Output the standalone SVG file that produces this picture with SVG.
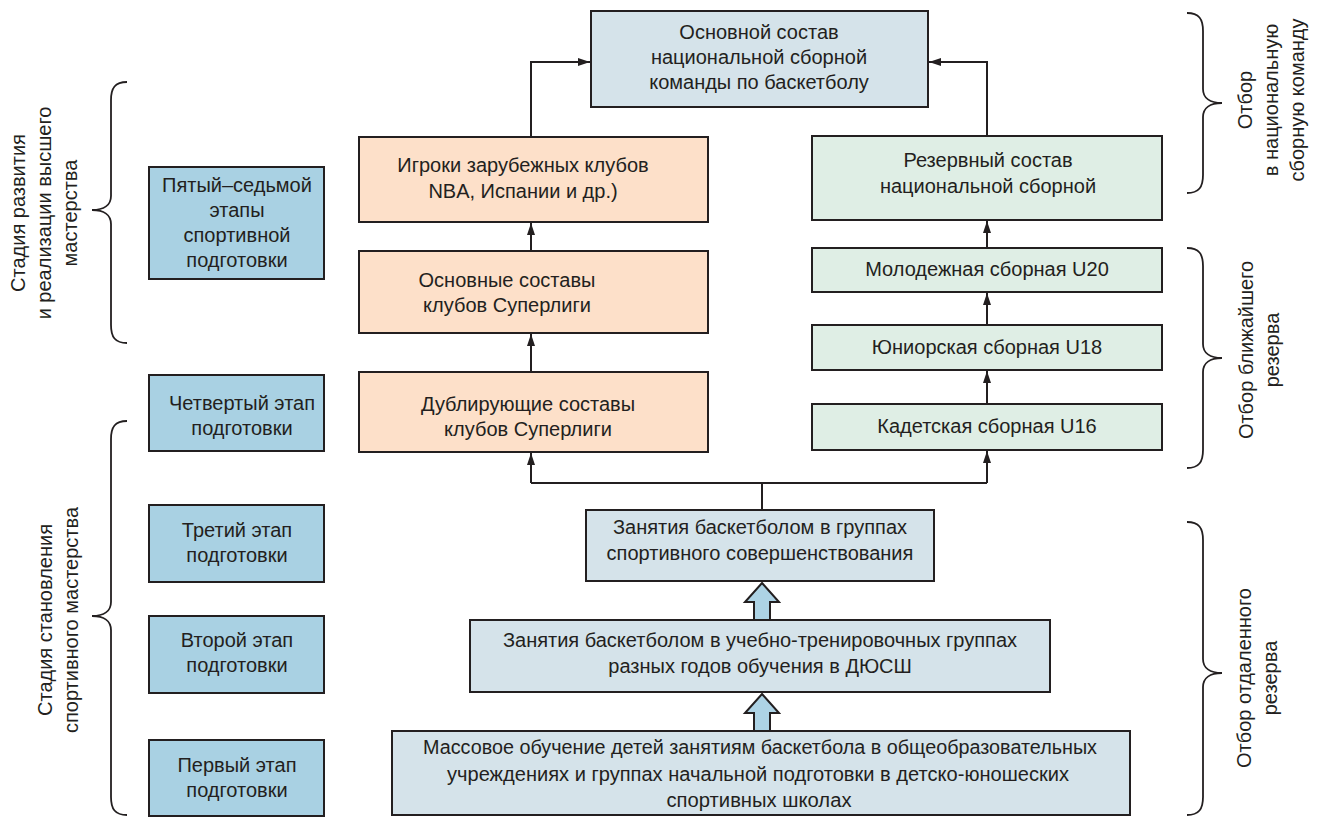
<svg xmlns="http://www.w3.org/2000/svg" width="1318" height="817" viewBox="0 0 1318 817">
<style>
  text { font-family: "Liberation Sans", Arial, sans-serif; font-size: 20px; fill: #231f20; text-anchor: middle; }
  .box { stroke: #231f20; stroke-width: 2; }
  .main { fill: #d5e3ea; }
  .stage { fill: #a9d1e3; }
  .club { fill: #fde0c9; }
  .nat { fill: #dfeee5; }
  .conn { fill: none; stroke: #231f20; stroke-width: 2; }
  .brace { fill: none; stroke: #231f20; stroke-width: 1.8; }
  .block { fill: #add3e5; stroke: #231f20; stroke-width: 2; stroke-linejoin: miter; }
</style>
<defs>
  <marker id="ah" viewBox="0 0 12 8" refX="12" refY="4" markerWidth="12" markerHeight="8" markerUnits="userSpaceOnUse" orient="auto">
    <path d="M0,0 L12,4 L0,8 Z" fill="#231f20"/>
  </marker>
</defs>
<rect width="1318" height="817" fill="#ffffff"/>

<g id="connectors">
  <path class="conn" d="M531,136 V62 H590" marker-end="url(#ah)"/>
  <path class="conn" d="M987,136 V62 H929" marker-end="url(#ah)"/>
  <path class="conn" d="M531,251 V223" marker-end="url(#ah)"/>
  <path class="conn" d="M531,372 V334" marker-end="url(#ah)"/>
  <path class="conn" d="M987,248 V221" marker-end="url(#ah)"/>
  <path class="conn" d="M987,325 V293" marker-end="url(#ah)"/>
  <path class="conn" d="M987,404 V371" marker-end="url(#ah)"/>
  <path class="conn" d="M762,510 V483"/>
  <path class="conn" d="M531,483 H987"/>
  <path class="conn" d="M531,483 V453" marker-end="url(#ah)"/>
  <path class="conn" d="M987,483 V451" marker-end="url(#ah)"/>
  <path class="block" d="M762,583 L779,602 L770,602 L770,620 L754,620 L754,602 L745,602 Z"/>
  <path class="block" d="M762,694 L779,713 L770,713 L770,731 L754,731 L754,713 L745,713 Z"/>
</g>

<g id="braces">
  <path class="brace" d="M127,82 C115,82 111,88 111,100 L111,196 C111,205 104,210 92,210 C104,210 111,215 111,224 L111,325 C111,337 115,343 127,343"/>
  <path class="brace" d="M127,421 C115,421 111,427 111,439 L111,602 C111,611 104,616 92,616 C104,616 111,621 111,630 L111,797 C111,809 115,815 127,815"/>
  <path class="brace" d="M1187,13 C1199,13 1203,19 1203,31 L1203,89 C1203,98 1210,103 1222,103 C1210,103 1203,108 1203,117 L1203,175 C1203,187 1199,193 1187,193"/>
  <path class="brace" d="M1187,248 C1199,248 1203,254 1203,266 L1203,344 C1203,353 1210,358 1222,358 C1210,358 1203,363 1203,372 L1203,450 C1203,462 1199,468 1187,468"/>
  <path class="brace" d="M1187,522 C1199,522 1203,528 1203,540 L1203,659 C1203,668 1210,673 1222,673 C1210,673 1203,678 1203,687 L1203,797 C1203,809 1199,815 1187,815"/>
</g>

<g id="label-left-top" transform="translate(0,213) rotate(-90)">
  <text x="0" y="25">Стадия развития</text>
  <text x="0" y="51">и реализации высшего</text>
  <text x="0" y="77">мастерства</text>
</g>
<g id="label-left-bottom" transform="translate(0,620) rotate(-90)">
  <text x="0" y="52">Стадия становления</text>
  <text x="0" y="78">спортивного мастерства</text>
</g>
<g id="label-right-top" transform="translate(0,100) rotate(-90)">
  <text x="0" y="1252">Отбор</text>
  <text x="0" y="1278">в национальную</text>
  <text x="0" y="1304">сборную команду</text>
</g>
<g id="label-right-mid" transform="translate(0,350) rotate(-90)">
  <text x="0" y="1253">Отбор ближайшего</text>
  <text x="0" y="1279">резерва</text>
</g>
<g id="label-right-bottom" transform="translate(0,678) rotate(-90)">
  <text x="0" y="1251">Отбор отдаленного</text>
  <text x="0" y="1277">резерва</text>
</g>

<g id="stage-5-7">
  <rect class="box stage" x="149" y="167" width="175" height="112"/>
  <text x="237" y="192">Пятый–седьмой</text>
  <text x="237" y="217">этапы</text>
  <text x="237" y="242">спортивной</text>
  <text x="237" y="267">подготовки</text>
</g>
<g id="stage-4">
  <rect class="box stage" x="149" y="375" width="175" height="76"/>
  <text x="242" y="410">Четвертый этап</text>
  <text x="242" y="435">подготовки</text>
</g>
<g id="stage-3">
  <rect class="box stage" x="149" y="505" width="175" height="77"/>
  <text x="237" y="537">Третий этап</text>
  <text x="237" y="562">подготовки</text>
</g>
<g id="stage-2">
  <rect class="box stage" x="149" y="616" width="175" height="77"/>
  <text x="237" y="647">Второй этап</text>
  <text x="237" y="672">подготовки</text>
</g>
<g id="stage-1">
  <rect class="box stage" x="149" y="740" width="175" height="76"/>
  <text x="237" y="772">Первый этап</text>
  <text x="237" y="797">подготовки</text>
</g>

<g id="national-team">
  <rect class="box main" x="591" y="11" width="337" height="96"/>
  <text x="759" y="39">Основной состав</text>
  <text x="759" y="64">национальной сборной</text>
  <text x="759" y="89">команды по баскетболу</text>
</g>
<g id="foreign-clubs">
  <rect class="box club" x="359" y="137" width="349" height="85"/>
  <text x="523" y="172">Игроки зарубежных клубов</text>
  <text x="523" y="198">NBA, Испании и др.)</text>
</g>
<g id="superleague-main">
  <rect class="box club" x="359" y="251" width="349" height="82"/>
  <text x="507" y="287">Основные составы</text>
  <text x="507" y="312">клубов Суперлиги</text>
</g>
<g id="superleague-double">
  <rect class="box club" x="359" y="372" width="349" height="80"/>
  <text x="528" y="411">Дублирующие составы</text>
  <text x="528" y="436">клубов Суперлиги</text>
</g>
<g id="national-reserve">
  <rect class="box nat" x="812" y="136" width="350" height="84"/>
  <text x="988" y="167">Резервный состав</text>
  <text x="988" y="193">национальной сборной</text>
</g>
<g id="u20">
  <rect class="box nat" x="812" y="248" width="350" height="44"/>
  <text x="987" y="276">Молодежная сборная U20</text>
</g>
<g id="u18">
  <rect class="box nat" x="812" y="325" width="350" height="45"/>
  <text x="987" y="354">Юниорская сборная U18</text>
</g>
<g id="u16">
  <rect class="box nat" x="812" y="404" width="350" height="46"/>
  <text x="987" y="433">Кадетская сборная U16</text>
</g>
<g id="improvement-groups">
  <rect class="box main" x="586" y="510" width="348" height="71"/>
  <text x="760" y="534">Занятия баскетболом в группах</text>
  <text x="760" y="560">спортивного совершенствования</text>
</g>
<g id="training-groups">
  <rect class="box main" x="470" y="620" width="580" height="72"/>
  <text x="760" y="647">Занятия баскетболом в учебно-тренировочных группах</text>
  <text x="760" y="673">разных годов обучения в ДЮСШ</text>
</g>
<g id="mass-training">
  <rect class="box main" x="392" y="731" width="738" height="84"/>
  <text x="760" y="754" textLength="674" lengthAdjust="spacingAndGlyphs">Массовое обучение детей занятиям баскетбола в общеобразовательных</text>
  <text x="758" y="781" textLength="622" lengthAdjust="spacingAndGlyphs">учреждениях и группах начальной подготовки в детско-юношеских</text>
  <text x="759" y="807" textLength="185" lengthAdjust="spacingAndGlyphs">спортивных школах</text>
</g>
</svg>
